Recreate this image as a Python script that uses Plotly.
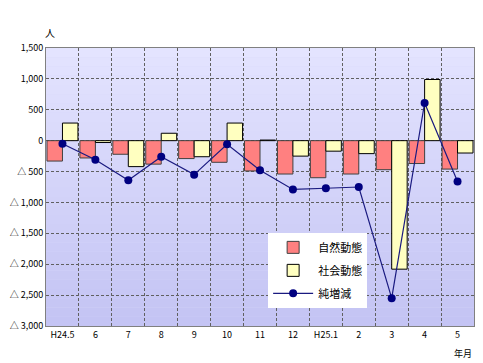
import plotly.graph_objects as go

categories = ["H24.5", "6", "7", "8", "9", "10", "11", "12", "H25.1", "2", "3", "4", "5"]
natural = [-330, -280, -220, -380, -290, -350, -490, -540, -600, -540, -470, -370, -460]
social = [285, -30, -420, 120, -260, 285, 10, -250, -170, -210, -2080, 990, -200]
net = [-50, -310, -640, -260, -550, -60, -480, -790, -770, -750, -2550, 610, -660]

ytick_vals = [1500, 1000, 500, 0, -500, -1000, -1500, -2000, -2500, -3000]
ytick_text = ["1,500", "1,000", "500", "0", "△ 500", "△ 1,000", "△ 1,500", "△ 2,000", "△ 2,500", "△ 3,000"]

FONT = "Noto Sans CJK JP"

fig = go.Figure()
fig.add_trace(go.Bar(x=categories, y=natural, name="自然動態",
                     marker=dict(color="#ff8080", line=dict(color="#404040", width=1)),
                     legendgroup="a"))
fig.add_trace(go.Bar(x=categories, y=social, name="社会動態",
                     marker=dict(color="#ffffc0", line=dict(color="#000000", width=1)),
                     legendgroup="b"))
fig.add_trace(go.Scatter(x=categories, y=net, name="純増減", mode="lines+markers",
                         line=dict(color="#1a1a80", width=1.2),
                         marker=dict(color="#000080", size=8),
                         legendgroup="c"))

# gradient background
n = 30
shapes = []
for i in range(n):
    t = i / (n - 1)
    r = int(228 - (228 - 196) * t)
    g = int(228 - (228 - 196) * t)
    b = int(255 - (255 - 244) * t)
    shapes.append(dict(type="rect", xref="x domain", yref="y domain",
                       x0=0, x1=1, y0=1 - (i + 1) / n, y1=1 - i / n,
                       fillcolor=f"rgb({r},{g},{b})", line=dict(width=0), layer="below"))

# page body has an 8px default margin, so the figure is sized/margined to compensate
fig.update_layout(
    width=475, height=355,
    margin=dict(l=38, r=9, t=40, b=37, autoexpand=False),
    paper_bgcolor="white",
    plot_bgcolor="#d8d8fa",
    barmode="group", bargap=0.06, bargroupgap=0.0,
    font=dict(family=FONT, size=9, color="#000000"),
    shapes=shapes,
    showlegend=True,
    legend=dict(x=0.519, y=0.335, xanchor="left", yanchor="top",
                bgcolor="white", borderwidth=0,
                font=dict(family=FONT, size=11), tracegroupgap=4,
                itemwidth=40),
    xaxis=dict(type="category", tickson="boundaries", showgrid=True,
               gridcolor="#606060", griddash="3px,2px", gridwidth=1,
               ticks="", showline=True, linecolor="#808080", mirror=True,
               tickfont=dict(size=9), range=[-0.5, 12.5], automargin=False),
    yaxis=dict(range=[-3000, 1500], tickvals=ytick_vals, ticktext=ytick_text,
               showgrid=True, gridcolor="#606060", griddash="3px,2px", gridwidth=1,
               zeroline=False, showline=True, linecolor="#808080", mirror=True,
               ticks="", tickfont=dict(size=9), automargin=False),
    annotations=[
        dict(text="人", xref="paper", yref="paper", x=0.0, y=1.0, xanchor="center",
             yanchor="bottom", yshift=6, xshift=4, showarrow=False, font=dict(size=10)),
        dict(text="年月", xref="paper", yref="paper", x=1.0, y=0, xanchor="center",
             yanchor="middle", yshift=-27, xshift=-11, showarrow=False, font=dict(size=9)),
    ],
)

fig.write_html("out.html")
